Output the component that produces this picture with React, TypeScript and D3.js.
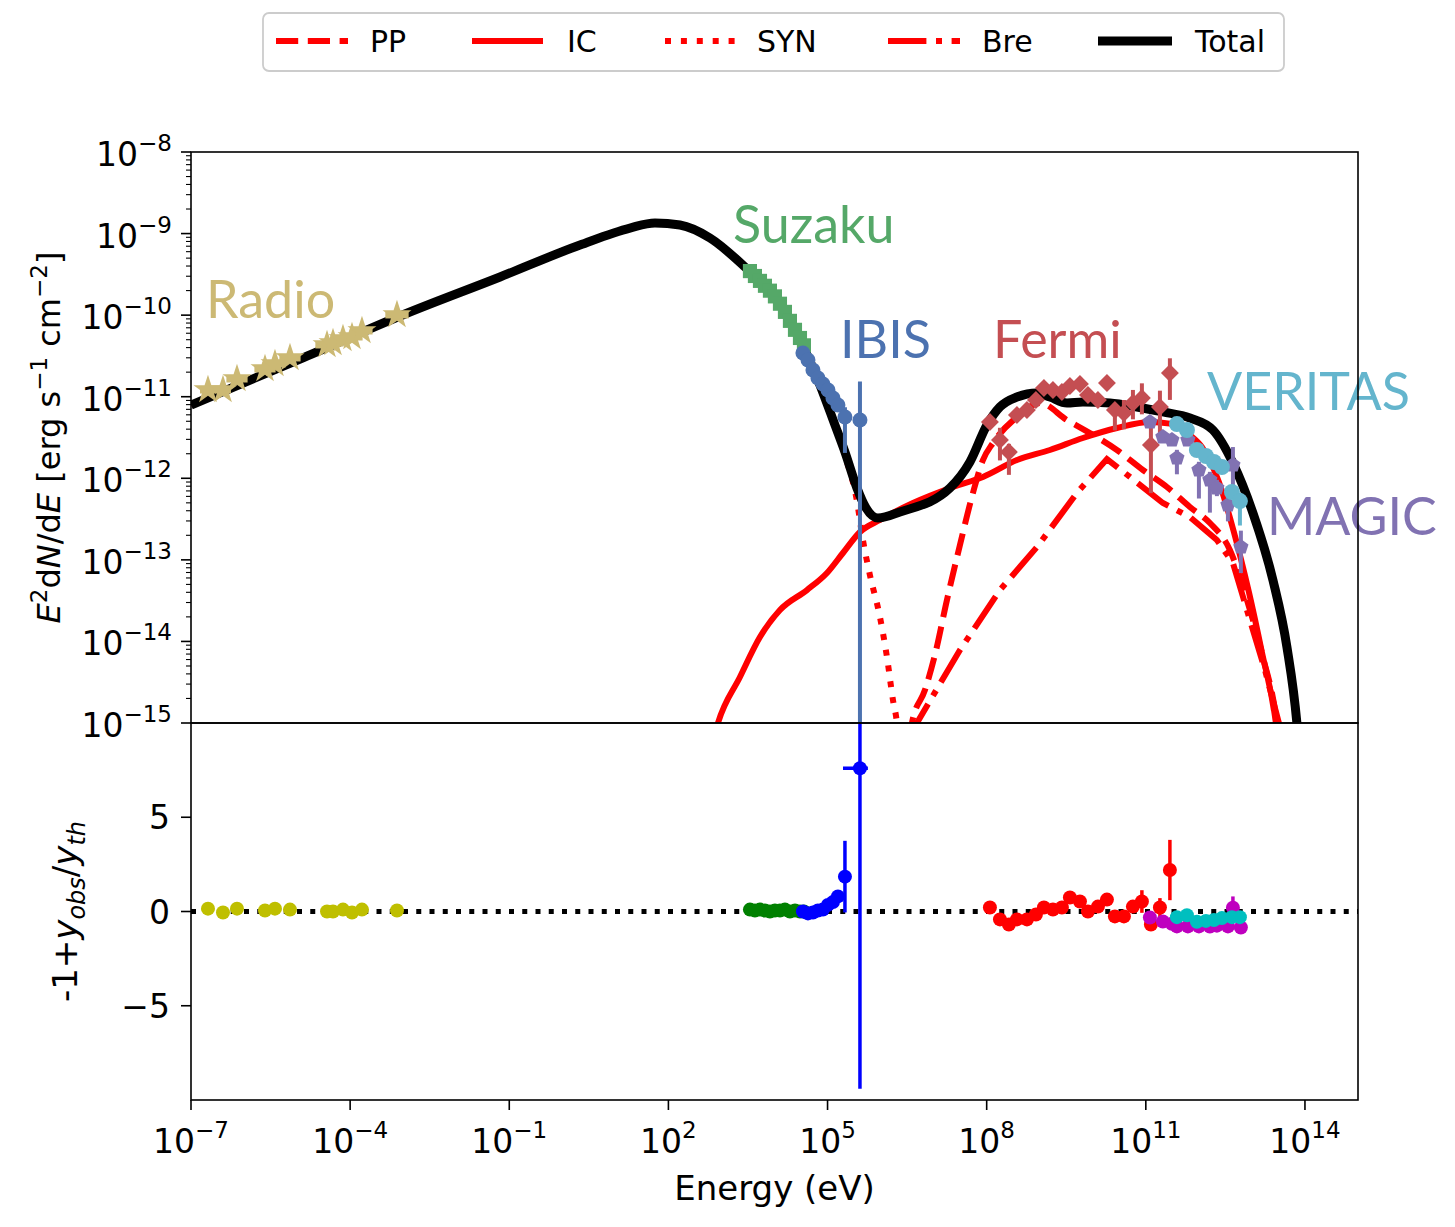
import React from 'react';
import * as d3 from 'd3';

// ---------------- DATA (log10 energy [eV], log10 flux [erg s^-1 cm^-2]) ----------------
const totalLogE = [-7, -4.945, -2.966, -1.175, 0.333, 1.275, 1.746, 2.218, 2.783, 3.443, 4.008, 4.48, 4.857, 5.14, 5.328, 5.554, 5.724, 5.95, 6.365, 7.307, 7.684, 8.005, 8.25, 8.57, 8.947, 9.192, 9.513, 9.814, 10.323, 10.832, 11.322, 11.831, 12.265, 12.642, 13.019, 13.396, 13.66, 13.848, 13.905];
const totalLogF = [-11.102, -10.538, -9.986, -9.532, -9.14, -8.932, -8.87, -8.895, -9.054, -9.41, -9.778, -10.305, -10.856, -11.347, -11.678, -12.119, -12.364, -12.487, -12.413, -12.119, -11.8, -11.347, -11.126, -11.004, -10.955, -11.004, -11.077, -11.065, -11.077, -11.126, -11.187, -11.261, -11.408, -11.813, -12.426, -13.247, -14.068, -15.0, -15.45];

const synLogE = [-7, -4.945, -2.966, -1.175, 0.333, 1.275, 1.746, 2.218, 2.783, 3.443, 4.008, 4.48, 4.857, 5.14, 5.328, 5.554, 5.667, 5.799, 5.988, 6.12, 6.233, 6.308, 6.35];
const synLogF = [-11.102, -10.538, -9.986, -9.532, -9.14, -8.932, -8.87, -8.895, -9.054, -9.41, -9.778, -10.305, -10.86, -11.36, -11.72, -12.28, -12.757, -13.186, -13.701, -14.191, -14.718, -15.0, -15.3];

const icLogE = [2.82, 2.934, 3.349, 3.726, 4.103, 4.612, 4.989, 5.29, 5.611, 5.988, 6.61, 7.364, 7.929, 8.57, 9.192, 9.814, 10.455, 11.077, 11.454, 11.831, 12.057, 12.378, 12.66, 12.943, 13.188, 13.452, 13.49];
const icLogF = [-15.27, -15.0, -14.436, -13.946, -13.615, -13.37, -13.161, -12.916, -12.659, -12.511, -12.303, -12.107, -11.984, -11.776, -11.653, -11.506, -11.384, -11.31, -11.33, -11.47, -11.616, -12.045, -12.658, -13.394, -14.13, -15.0, -15.2];

const ppLogE = [6.55, 6.591, 6.836, 7.024, 7.251, 7.496, 7.741, 7.929, 8.118, 8.57, 9.004, 9.513, 9.946, 10.455, 10.945, 11.398, 11.831, 12.208, 12.585, 12.906, 13.207, 13.471, 13.51];
const ppLogF = [-15.2, -15.0, -14.596, -14.167, -13.492, -12.818, -12.18, -11.776, -11.567, -11.249, -11.077, -11.286, -11.445, -11.653, -11.898, -12.107, -12.352, -12.548, -12.879, -13.492, -14.191, -15.0, -15.21];

const breLogE = [6.65, 6.685, 7.496, 8.25, 8.947, 9.701, 10.267, 10.7, 11.322, 11.831, 12.34, 12.642, 12.962, 13.245, 13.509, 13.55];
const breLogF = [-15.2, -15.0, -14.105, -13.37, -12.843, -12.18, -11.764, -11.984, -12.303, -12.475, -12.757, -13.039, -13.737, -14.347, -15.0, -15.25];

const radioLogE = [-6.68, -6.397, -6.133, -5.605, -5.417, -5.134, -4.436, -4.323, -4.135, -3.965, -3.777, -3.117];
const radioLogF = [-10.918, -10.918, -10.783, -10.66, -10.599, -10.525, -10.366, -10.342, -10.293, -10.268, -10.194, -9.998];
const radioXErr = [0.15, 0.15, 0.2, 0.2, 0.2, 0.2, 0.22, 0.2, 0.2, 0.2, 0.2, 0.22];
const radioRes = [0.15, -0.05, 0.15, 0.05, 0.15, 0.1, 0.0, 0.0, 0.1, -0.05, 0.1, 0.05];

const suzakuLogE = [3.537, 3.631, 3.726, 3.82, 3.914, 4.008, 4.103, 4.197, 4.291, 4.386, 4.48, 4.555];
const suzakuLogF = [-9.46, -9.52, -9.58, -9.64, -9.7, -9.77, -9.86, -9.96, -10.07, -10.18, -10.28, -10.37];
const suzakuRes = [0.1, 0.05, 0.1, 0.05, 0.0, 0.05, 0.05, 0.1, 0.0, 0.05, 0.0, 0.0];

const ibisLogE = [4.536, 4.631, 4.725, 4.819, 4.913, 5.008, 5.102, 5.196, 5.328, 5.611];
const ibisLogF = [-10.464, -10.55, -10.673, -10.771, -10.844, -10.918, -11.016, -11.102, -11.249, -11.285];
const ibisErrLo = [0.03, 0.03, 0.03, 0.03, 0.04, 0.05, 0.06, 0.08, 0.44, 6];
const ibisErrHi = [0.03, 0.03, 0.03, 0.03, 0.04, 0.05, 0.05, 0.07, 0.12, 0.47];
const ibisRes = [0.0, -0.1, -0.05, 0.05, 0.1, 0.35, 0.5, 0.8, 1.85, 7.6];
const ibisResErr = [0.05, 0.05, 0.05, 0.05, 0.05, 0.1, 0.15, 0.3, 1.9, 17];

const fermiLogE = [8.061, 8.25, 8.419, 8.57, 8.759, 8.928, 9.079, 9.249, 9.418, 9.569, 9.758, 9.909, 10.097, 10.267, 10.417, 10.587, 10.757, 10.926, 11.096, 11.266, 11.454];
const fermiLogF = [-11.31, -11.531, -11.678, -11.224, -11.163, -11.04, -10.893, -10.918, -10.942, -10.869, -10.844, -10.979, -11.04, -10.832, -11.163, -11.2, -11.077, -11.016, -11.592, -11.126, -10.709];
const fermiErrLo = [0.04, 0.25, 0.28, 0.04, 0.04, 0.04, 0.04, 0.04, 0.04, 0.04, 0.04, 0.04, 0.05, 0.05, 0.25, 0.2, 0.2, 0.2, 0.59, 0.34, 0.33];
const fermiErrHi = [0.04, 0.15, 0.1, 0.04, 0.04, 0.04, 0.04, 0.04, 0.04, 0.04, 0.04, 0.04, 0.05, 0.05, 0.08, 0.16, 0.16, 0.18, 0.34, 0.2, 0.18];
const fermiRes = [0.21, -0.42, -0.69, -0.42, -0.42, -0.16, 0.21, 0.11, 0.21, 0.74, 0.53, 0.0, 0.26, 0.63, -0.26, -0.26, 0.26, 0.53, -0.69, 0.21, 2.2];
const fermiResErr = [0.1, 0.1, 0.1, 0.05, 0.05, 0.05, 0.05, 0.05, 0.05, 0.05, 0.05, 0.05, 0.05, 0.1, 0.15, 0.2, 0.25, 0.6, 0.3, 0.5, 1.6];

const veritasLogE = [11.586, 11.775, 11.963, 12.133, 12.284, 12.434, 12.623, 12.774];
const veritasLogF = [-11.335, -11.408, -11.653, -11.727, -11.8, -11.862, -12.168, -12.279];
const veritasErrLo = [0.03, 0.03, 0.03, 0.03, 0.04, 0.04, 0.06, 0.3];
const veritasErrHi = [0.03, 0.03, 0.03, 0.03, 0.04, 0.04, 0.06, 0.1];
const veritasRes = [-0.3, -0.2, -0.55, -0.5, -0.45, -0.35, -0.3, -0.3];

const magicLogE = [11.077, 11.322, 11.492, 11.586, 11.793, 12.001, 12.208, 12.34, 12.548, 12.642, 12.792];
const magicLogF = [-11.31, -11.494, -11.531, -11.751, -11.531, -11.898, -12.021, -12.119, -12.328, -11.837, -12.842];
const magicErrLo = [0.04, 0.05, 0.05, 0.2, 0.05, 0.35, 0.4, 0.1, 0.2, 0.27, 0.32];
const magicErrHi = [0.04, 0.05, 0.05, 0.1, 0.05, 0.1, 0.1, 0.1, 0.1, 0.22, 0.2];
const magicRes = [-0.32, -0.53, -0.65, -0.79, -0.79, -0.79, -0.8, -0.75, -0.79, 0.2, -0.85];
const magicResErr = [0.05, 0.05, 0.05, 0.05, 0.05, 0.05, 0.05, 0.05, 0.05, 0.6, 0.05];

const xTickExps = [-7, -4, -1, 2, 5, 8, 11, 14];
const yTopTickExps = [-8, -9, -10, -11, -12, -13, -14, -15];
const yBotTicks = [5, 0, -5];

const legendItems = [
  { label: 'PP', color: '#ff0000', dash: '22.2,9.6', width: 6 },
  { label: 'IC', color: '#ff0000', dash: '', width: 6 },
  { label: 'SYN', color: '#ff0000', dash: '6,9.9', width: 6 },
  { label: 'Bre', color: '#ff0000', dash: '38.4,9.6,6,9.6', width: 6 },
  { label: 'Total', color: '#000000', dash: '', width: 9 },
];

// ---------------- LAYOUT ----------------
const W = 1455;
const H = 1227;
const L = 191, R = 1358, T = 152, MID = 723, B = 1100;
const FONT = "'DejaVu Sans', 'Liberation Sans', sans-serif";
const AFONT = "Lato, 'Open Sans', sans-serif";
const TICK_FS = 33;
const SUP_FS = 23;

const C = {
  radio: '#ccb974', suzaku: '#55a868', ibis: '#4c72b0', fermi: '#c44e52', veritas: '#64b5cd', magic: '#8172b2',
  y: '#bfbf00', g: '#008000', b: '#0000ff', r: '#ff0000', m: '#bf00bf', c: '#00bfbf',
};

const p10 = (v: number) => Math.pow(10, v);
const x = d3.scaleLog().domain([1e-7, 1e15]).range([L, R]);
const yT = d3.scaleLog().domain([1e-15, 1e-8]).range([MID, T]);
const yB = d3.scaleLinear().domain([-10, 10]).range([B, MID]);

function curvePath(le: number[], lf: number[], curve: d3.CurveFactory = d3.curveMonotoneX) {
  return d3.line<number>()
    .x((_, i) => x(p10(le[i])))
    .y((_, i) => yT(p10(lf[i])))
    .curve(curve)(le) || '';
}

const starPath = d3.symbol().type(d3.symbolStar).size(260)() || '';
const squarePath = d3.symbol().type(d3.symbolSquare).size(200)() || '';
const diamondPath = d3.symbol().type(d3.symbolSquare).size(160)() || '';
const pentagonPath = d3.lineRadial<number>()
  .angle((d) => d)
  .radius(8)
  .curve(d3.curveLinearClosed)([0, 1, 2, 3, 4].map((k) => (k * 2 * Math.PI) / 5)) || '';

function ErrY({ le, lf, lo, hi, color, w = 3.5 }: any) {
  return (
    <g stroke={color} strokeWidth={w}>
      {le.map((e: number, i: number) => (
        <line key={i} x1={x(p10(e))} x2={x(p10(e))} y1={yT(p10(lf[i] - lo[i]))} y2={yT(p10(lf[i] + hi[i]))} />
      ))}
    </g>
  );
}

function Markers({ le, lf, path, color, rotate = 0 }: any) {
  return (
    <g fill={color}>
      {le.map((e: number, i: number) => (
        <path key={i} d={path} transform={`translate(${x(p10(e))},${yT(p10(lf[i]))}) rotate(${rotate})`} />
      ))}
    </g>
  );
}

function ResPoints({ le, res, err, color, r = 7 }: any) {
  return (
    <g>
      {err && (
        <g stroke={color} strokeWidth={3.5}>
          {le.map((e: number, i: number) => (
            <line key={i} x1={x(p10(e))} x2={x(p10(e))} y1={yB(res[i] - err[i])} y2={yB(res[i] + err[i])} />
          ))}
        </g>
      )}
      <g fill={color}>
        {le.map((e: number, i: number) => (
          <circle key={i} cx={x(p10(e))} cy={yB(res[i])} r={r} />
        ))}
      </g>
    </g>
  );
}

function PowLabel({ px, py, exp, anchor }: any) {
  const s = exp < 0 ? '\u2212' + Math.abs(exp) : String(exp);
  return (
    <text x={px} y={py} textAnchor={anchor} fontSize={TICK_FS} fontFamily={FONT} fill="#000">
      10<tspan dy={-15} fontSize={SUP_FS}>{s}</tspan>
    </text>
  );
}

export default function App() {
  const minorTicks: number[] = [];
  for (let k = -15; k < -8; k++) for (let m = 2; m <= 9; m++) minorTicks.push(m * p10(k));

  const legendX = [276, 472, 665, 888, 1098];
  const legendTextX = [370, 567, 757, 982, 1195];
  const legendLen = [72, 71, 72, 72, 74];

  const ibisLast = ibisLogE[ibisLogE.length - 1];

  return (
    <svg width={W} height={H} style={{ position: 'absolute', left: 0, top: 0, background: '#fff' }}>
      <defs>
        <clipPath id="clipTop"><rect x={L} y={T} width={R - L} height={MID - T} /></clipPath>
        <clipPath id="clipBot"><rect x={L} y={MID} width={R - L} height={B - MID} /></clipPath>
      </defs>
      <rect x={0} y={0} width={W} height={H} fill="#fff" />

      {/* Legend */}
      <rect x={263} y={13} width={1021} height={58} rx={6} fill="#fff" stroke="#cccccc" strokeWidth={1.8} />
      {legendItems.map((it, i) => (
        <g key={it.label}>
          <line x1={legendX[i]} x2={legendX[i] + legendLen[i]} y1={41} y2={41} stroke={it.color} strokeWidth={it.width} strokeDasharray={it.dash || undefined} />
          <text x={legendTextX[i]} y={52} fontSize={30} fontFamily={FONT}>{it.label}</text>
        </g>
      ))}

      {/* Top panel curves */}
      <g clipPath="url(#clipTop)" fill="none">
        <path d={curvePath(ppLogE, ppLogF)} stroke="#ff0000" strokeWidth={6} strokeDasharray="22.2,9.6" />
        <path d={curvePath(icLogE, icLogF)} stroke="#ff0000" strokeWidth={6} />
        <path d={curvePath(synLogE, synLogF)} stroke="#ff0000" strokeWidth={6} strokeDasharray="6,9.9" />
        <path d={curvePath(breLogE, breLogF, d3.curveLinear)} stroke="#ff0000" strokeWidth={6} strokeDasharray="38.4,9.6,6,9.6" />
        <path d={curvePath(totalLogE, totalLogF)} stroke="#000" strokeWidth={9} />
      </g>

      {/* Top panel data */}
      <g clipPath="url(#clipTop)">
        <g stroke={C.radio} strokeWidth={7}>
          {radioLogE.map((e, i) => (
            <line key={i} x1={x(p10(e - radioXErr[i]))} x2={x(p10(e + radioXErr[i]))} y1={yT(p10(radioLogF[i]))} y2={yT(p10(radioLogF[i]))} />
          ))}
        </g>
        <Markers le={radioLogE} lf={radioLogF} path={starPath} color={C.radio} />
        <Markers le={suzakuLogE} lf={suzakuLogF} path={squarePath} color={C.suzaku} />
        <ErrY le={ibisLogE} lf={ibisLogF} lo={ibisErrLo} hi={ibisErrHi} color={C.ibis} w={4} />
        <g fill={C.ibis}>
          {ibisLogE.map((e, i) => <circle key={i} cx={x(p10(e))} cy={yT(p10(ibisLogF[i]))} r={7.5} />)}
        </g>
        <ErrY le={fermiLogE} lf={fermiLogF} lo={fermiErrLo} hi={fermiErrHi} color={C.fermi} w={4} />
        <Markers le={fermiLogE} lf={fermiLogF} path={diamondPath} color={C.fermi} rotate={45} />
        <ErrY le={magicLogE} lf={magicLogF} lo={magicErrLo} hi={magicErrHi} color={C.magic} w={4} />
        <Markers le={magicLogE} lf={magicLogF} path={pentagonPath} color={C.magic} />
        <ErrY le={veritasLogE} lf={veritasLogF} lo={veritasErrLo} hi={veritasErrHi} color={C.veritas} w={4} />
        <g fill={C.veritas}>
          {veritasLogE.map((e, i) => <circle key={i} cx={x(p10(e))} cy={yT(p10(veritasLogF[i]))} r={8} />)}
        </g>
      </g>

      {/* Annotations */}
      <g fontFamily={AFONT} fontSize={52}>
        <text x={206} y={318} fill={C.radio}>Radio</text>
        <text x={733} y={243} fill={C.suzaku}>Suzaku</text>
        <text x={840} y={358} fill={C.ibis}>IBIS</text>
        <text x={993} y={358} fill={C.fermi}>Fermi</text>
        <text x={1207} y={410} fill={C.veritas}>VERITAS</text>
        <text x={1267} y={535} fill={C.magic}>MAGIC</text>
      </g>

      {/* Bottom panel */}
      <g clipPath="url(#clipBot)">
        <line x1={L} x2={R} y1={yB(0)} y2={yB(0)} stroke="#000" strokeWidth={5} strokeDasharray="5,8.25" />
        <ResPoints le={radioLogE} res={radioRes} color={C.y} />
        <ResPoints le={suzakuLogE} res={suzakuRes} color={C.g} />
        <line x1={x(p10(ibisLast - 0.32))} x2={x(p10(ibisLast + 0.15))} y1={yB(ibisRes[ibisRes.length - 1])} y2={yB(ibisRes[ibisRes.length - 1])} stroke={C.b} strokeWidth={3.5} />
        <ResPoints le={ibisLogE} res={ibisRes} err={ibisResErr} color={C.b} />
        <ResPoints le={fermiLogE} res={fermiRes} err={fermiResErr} color={C.r} />
        <ResPoints le={magicLogE} res={magicRes} err={magicResErr} color={C.m} />
        <ResPoints le={veritasLogE} res={veritasRes} color={C.c} />
      </g>

      {/* Frames */}
      <rect x={L} y={T} width={R - L} height={MID - T} fill="none" stroke="#000" strokeWidth={1.6} />
      <rect x={L} y={MID} width={R - L} height={B - MID} fill="none" stroke="#000" strokeWidth={1.6} />

      {/* Top y ticks */}
      <g stroke="#000" strokeWidth={1.6}>
        {yTopTickExps.map((k) => <line key={k} x1={L - 10} x2={L} y1={yT(p10(k))} y2={yT(p10(k))} />)}
      </g>
      <g stroke="#000" strokeWidth={1.1}>
        {minorTicks.map((v, i) => <line key={i} x1={L - 5} x2={L} y1={yT(v)} y2={yT(v)} />)}
      </g>
      {yTopTickExps.map((k) => <PowLabel key={k} px={172} py={yT(p10(k)) + 14} exp={k} anchor="end" />)}

      {/* Bottom y ticks */}
      <g stroke="#000" strokeWidth={1.6}>
        {yBotTicks.map((v) => <line key={v} x1={L - 10} x2={L} y1={yB(v)} y2={yB(v)} />)}
      </g>
      {yBotTicks.map((v) => (
        <text key={v} x={170} y={yB(v) + 12} textAnchor="end" fontSize={TICK_FS} fontFamily={FONT}>
          {v < 0 ? '\u2212' + Math.abs(v) : String(v)}
        </text>
      ))}

      {/* x ticks */}
      <g stroke="#000" strokeWidth={1.6}>
        {xTickExps.map((k) => <line key={k} x1={x(p10(k))} x2={x(p10(k))} y1={B} y2={B + 10} />)}
      </g>
      {xTickExps.map((k) => <PowLabel key={k} px={x(p10(k))} py={1153} exp={k} anchor="middle" />)}

      {/* Axis labels */}
      <text x={(L + R) / 2} y={1200} textAnchor="middle" fontSize={34} fontFamily={FONT}>Energy (eV)</text>
      <text transform={`translate(60,${(T + MID) / 2}) rotate(-90)`} textAnchor="middle" fontSize={32} fontFamily={FONT}>
        <tspan fontStyle="italic">E</tspan>
        <tspan dy={-13} fontSize={23}>2</tspan>
        <tspan dy={13}>d</tspan>
        <tspan fontStyle="italic">N</tspan>
        <tspan>/d</tspan>
        <tspan fontStyle="italic">E</tspan>
        <tspan> [erg s</tspan>
        <tspan dy={-13} fontSize={23}>{'\u22121'}</tspan>
        <tspan dy={13}> cm</tspan>
        <tspan dy={-13} fontSize={23}>{'\u22122'}</tspan>
        <tspan dy={13}>]</tspan>
      </text>
      <text transform={`translate(77,${(MID + B) / 2}) rotate(-90)`} textAnchor="middle" fontSize={34} fontFamily={FONT}>
        <tspan>-1+</tspan>
        <tspan fontStyle="italic">y</tspan>
        <tspan dy={8} fontSize={24} fontStyle="italic">obs</tspan>
        <tspan dy={-8}>/</tspan>
        <tspan fontStyle="italic">y</tspan>
        <tspan dy={8} fontSize={24} fontStyle="italic">th</tspan>
      </text>
    </svg>
  );
}
